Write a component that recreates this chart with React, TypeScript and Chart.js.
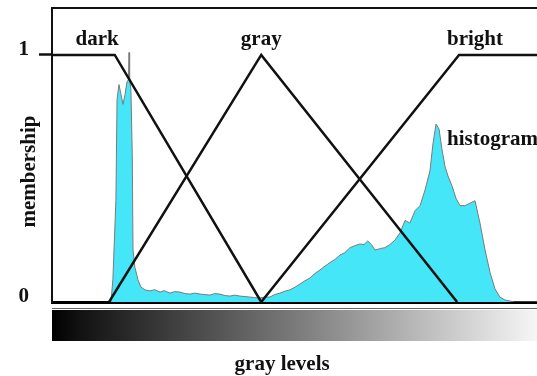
import React, { useEffect, useRef } from "react";
import { Chart, registerables } from "chart.js";

Chart.register(...registerables);

// ---- data (gray level 0..255, membership 0..1) ----
const histX = [31, 32, 33.6, 34.2, 35.2, 36.3, 37.3, 38.4, 39.4, 40.2, 40.5, 40.8, 41.5, 42.2, 42.6, 43.6, 45.2, 46.8, 48.9, 51.5, 54, 56.8, 59, 62, 64.5, 67.3, 70, 72.6, 75, 77.8, 80.5, 83, 85.5, 88.3, 91, 93.6, 96, 98.8, 101.5, 104, 106.5, 109, 112, 114.6, 117, 119.9, 122.5, 125, 127.8, 130.4, 133, 135.6, 138.2, 140.9, 143.5, 146.2, 148.8, 151.4, 154, 156.7, 159.3, 161.9, 164, 166, 168, 169.8, 172.5, 175, 177.5, 180.3, 183, 185.6, 188.2, 190.9, 193.5, 196, 198.7, 200.3, 201.9, 203.5, 205, 206.6, 208.2, 210.3, 212.4, 214.5, 217.1, 219.8, 222.4, 225, 227.7, 230.3, 232.9, 235.5, 238.2, 240.8, 243, 255];
const histY = [0, 0.09, 0.41, 0.82, 0.88, 0.84, 0.8, 0.84, 0.89, 0.9, 1.01, 0.9, 0.86, 0.6, 0.21, 0.14, 0.09, 0.06, 0.049, 0.045, 0.05, 0.04, 0.046, 0.036, 0.042, 0.04, 0.034, 0.032, 0.036, 0.032, 0.03, 0.028, 0.034, 0.032, 0.026, 0.024, 0.028, 0.024, 0.022, 0.02, 0.018, 0.016, 0.02, 0.02, 0.03, 0.036, 0.044, 0.049, 0.06, 0.073, 0.086, 0.097, 0.115, 0.13, 0.145, 0.16, 0.172, 0.19, 0.2, 0.22, 0.228, 0.235, 0.232, 0.247, 0.232, 0.21, 0.216, 0.22, 0.232, 0.25, 0.28, 0.33, 0.32, 0.37, 0.39, 0.45, 0.53, 0.64, 0.72, 0.7, 0.62, 0.55, 0.51, 0.47, 0.42, 0.39, 0.39, 0.4, 0.41, 0.32, 0.21, 0.12, 0.053, 0.02, 0.008, 0.004, 0, 0];

const darkX = [0, 33, 110];
const darkY = [1, 1, 0];
const grayX = [30, 110, 213];
const grayY = [0, 1, 0];
const brightX = [110, 214, 255];
const brightY = [0, 1, 1];

const yTickValues = [0, 1];
const xTitle = "gray levels";
const yTitle = "membership";

const labelTexts = ["dark", "gray", "bright", "histogram"];
const labelX = [23.7, 110, 222.4, 207.7];
const labelY = [1.04, 1.04, 1.04, 0.636];
const labelAlign: CanvasTextAlign[] = ["center", "center", "center", "left"];

const FONT = "'Liberation Serif', 'Times New Roman', serif";

const pts = (xs: number[], ys: number[]) => xs.map((x, i) => ({ x, y: ys[i] }));

const decor = {
  id: "decor",
  afterDraw(chart: any) {
    const { ctx, chartArea, scales } = chart;
    const x = scales.x;
    const y = scales.y;
    ctx.save();
    // top frame line
    ctx.strokeStyle = "#111";
    ctx.lineWidth = 2;
    ctx.beginPath();
    ctx.moveTo(chartArea.left, chartArea.top);
    ctx.lineTo(chartArea.right, chartArea.top);
    ctx.stroke();

    // gray level bar
    const barTop = x.top + 8;
    const barBot = x.top + 39;
    const g = ctx.createLinearGradient(x.left, 0, x.right, 0);
    g.addColorStop(0, "#000000");
    g.addColorStop(0.05, "#101010");
    g.addColorStop(0.5, "#7a7a7a");
    g.addColorStop(1, "#f6f6f6");
    ctx.fillStyle = g;
    ctx.fillRect(x.left, barTop, x.right - x.left, barBot - barTop);
    ctx.strokeStyle = "#666";
    ctx.lineWidth = 1;
    ctx.beginPath();
    ctx.moveTo(x.left, barTop - 1.5);
    ctx.lineTo(x.right, barTop - 1.5);
    ctx.stroke();

    // annotations
    ctx.fillStyle = "#111";
    ctx.font = `bold 21px ${FONT}`;
    ctx.textBaseline = "alphabetic";
    labelTexts.forEach((t, i) => {
      ctx.textAlign = labelAlign[i];
      ctx.fillText(t, x.getPixelForValue(labelX[i]), y.getPixelForValue(labelY[i]));
    });

    // axis titles
    ctx.textAlign = "center";
    ctx.fillText(xTitle, x.getPixelForValue(121), x.top + 68);
    ctx.save();
    ctx.translate(35, y.getPixelForValue(0.528));
    ctx.rotate(-Math.PI / 2);
    ctx.fillText(yTitle, 0, 0);
    ctx.restore();
    ctx.restore();
  },
};

export default function App() {
  const ref = useRef<HTMLCanvasElement | null>(null);
  useEffect(() => {
    document.body.style.margin = "0";
    Chart.defaults.font.family = FONT;
    const chart = new Chart(ref.current as HTMLCanvasElement, {
      type: "line",
      data: {
        datasets: [
          {
            label: "dark",
            data: pts(darkX, darkY),
            borderColor: "#111",
            borderWidth: 2.5,
            pointRadius: 0,
            fill: false,
            order: 0,
          },
          {
            label: "gray",
            data: pts(grayX, grayY),
            borderColor: "#111",
            borderWidth: 2.5,
            pointRadius: 0,
            fill: false,
            order: 0,
          },
          {
            label: "bright",
            data: pts(brightX, brightY),
            borderColor: "#111",
            borderWidth: 2.5,
            pointRadius: 0,
            fill: false,
            order: 0,
          },
          {
            label: "histogram",
            data: pts(histX, histY),
            borderColor: "#7a7a7a",
            borderWidth: 1,
            backgroundColor: "#45E6F7",
            pointRadius: 0,
            fill: "origin",
            order: 5,
          },
        ],
      },
      options: {
        animation: false,
        responsive: true,
        maintainAspectRatio: false,
        layout: { padding: { top: 8, left: 0, right: 0, bottom: 0 } },
        plugins: { legend: { display: false }, tooltip: { enabled: false } },
        scales: {
          x: {
            type: "linear",
            min: 0,
            max: 255,
            ticks: { display: false },
            grid: { display: false },
            border: { display: true, color: "#000", width: 3 },
            afterFit: (s: any) => {
              s.height = 74;
              s.paddingLeft = 0;
              s.paddingRight = 0;
            },
          },
          y: {
            type: "linear",
            min: 0,
            max: 1.19,
            afterBuildTicks: (s: any) => {
              s.ticks = yTickValues.map((v) => ({ value: v }));
            },
            ticks: {
              color: "#111",
              font: { size: 21, weight: "bold", family: FONT },
              padding: 10,
              labelOffset: -5,
              callback: (v: any) => String(v),
            },
            grid: {
              display: true,
              drawOnChartArea: false,
              drawTicks: true,
              tickLength: 13,
              tickWidth: 2.5,
              tickColor: (c: any) => (c.tick && c.tick.value === 1 ? "#111" : "rgba(0,0,0,0)"),
            },
            border: { display: true, color: "#111", width: 2 },
            afterFit: (s: any) => {
              s.width = 52;
              s.paddingTop = 0;
              s.paddingBottom = 0;
            },
          },
        },
      },
      plugins: [decor],
    });
    return () => chart.destroy();
  }, []);
  return (
    <div style={{ width: 537, height: 376, position: "relative" }}>
      <canvas ref={ref} />
    </div>
  );
}
